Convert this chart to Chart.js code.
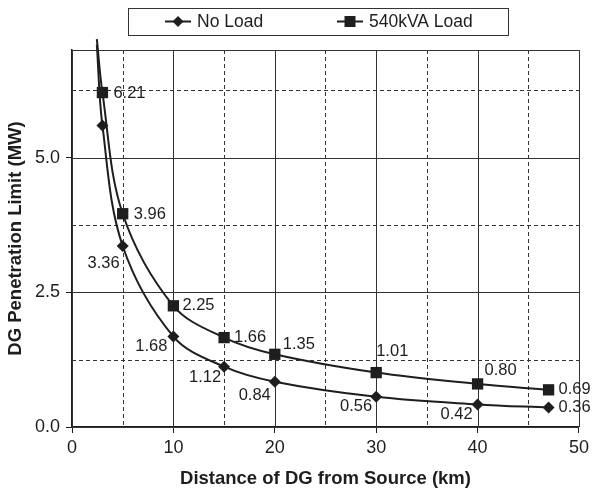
<!DOCTYPE html>
<html>
<head>
<meta charset="utf-8">
<script src="https://cdn.jsdelivr.net/npm/chart.js@4.4.1/dist/chart.umd.min.js"></script>
<style>
  html, body { margin: 0; padding: 0; background: #ffffff; }
  #wrap { width: 593px; height: 495px; position: relative; }
</style>
</head>
<body>
<div id="wrap"><canvas id="c" width="593" height="495"></canvas></div>
<script>
// Distance of the DG unit from the source (km)
const distanceKm = [2.45, 3, 5, 10, 15, 20, 30, 40, 47];
// Penetration limit (MW) with no load connected
const noLoadMW = [7.1, 5.60, 3.36, 1.68, 1.12, 0.84, 0.56, 0.42, 0.36];
// Penetration limit (MW) with a 540 kVA load connected
const load540MW = [7.2, 6.21, 3.96, 2.25, 1.66, 1.35, 1.01, 0.80, 0.69];
// Printed value labels (null = not printed)
const noLoadLabels = [null, null, '3.36', '1.68', '1.12', '0.84', '0.56', '0.42', '0.36'];
const load540Labels = [null, '6.21', '3.96', '2.25', '1.66', '1.35', '1.01', '0.80', '0.69'];
// Axis tick labels
const xTickValues = [0, 10, 20, 30, 40, 50];
const yTickValues = [0, 2.5, 5.0];
// Minor (dashed) grid positions
const xMinorGrid = [5, 15, 25, 35, 45];
const yMinorGrid = [1.25, 3.75, 6.25];

// Label placement relative to each marker: [dx, dy, textAlign]
const noLoadLabelPlace = [null, null, [-3, 17, 'right'], [-6, 10, 'right'], [-3, 11, 'right'],
  [-4, 14, 'right'], [-4, 10, 'right'], [-5, 10, 'right'], [10, 0, 'left']];
const load540LabelPlace = [null, [11, 1, 'left'], [11, 1, 'left'], [9, 0, 'left'], [10, 0, 'left'],
  [8, -10, 'left'], [0, -21, 'left'], [7, -13, 'left'], [10, 0, 'left']];

const INK = '#1e1e1e';
const FONT = '"Liberation Sans", Arial, sans-serif';

const toPoints = (ys) => distanceKm.map((x, i) => ({ x: x, y: ys[i] }));

// Inner grid: solid at labelled ticks, dashed halfway between
const gridPlugin = {
  id: 'grid',
  beforeDatasetsDraw(chart) {
    const { ctx, chartArea: a, scales: { x, y } } = chart;
    ctx.save();
    ctx.strokeStyle = '#333';
    ctx.lineWidth = 1;
    const vline = (v) => { const px = Math.round(x.getPixelForValue(v)) + 0.5; ctx.beginPath(); ctx.moveTo(px, a.top); ctx.lineTo(px, a.bottom); ctx.stroke(); };
    const hline = (v) => { const py = Math.round(y.getPixelForValue(v)) + 0.5; ctx.beginPath(); ctx.moveTo(a.left, py); ctx.lineTo(a.right, py); ctx.stroke(); };
    ctx.setLineDash([]);
    xTickValues.forEach(vline);
    yTickValues.forEach(hline);
    hline(y.max);
    ctx.setLineDash([4, 3]);
    xMinorGrid.forEach(vline);
    yMinorGrid.forEach(hline);
    ctx.restore();
  }
};

// Value labels beside the markers
const valueLabelPlugin = {
  id: 'valueLabels',
  afterDatasetsDraw(chart) {
    const { ctx } = chart;
    const sets = [[noLoadLabels, noLoadLabelPlace], [load540Labels, load540LabelPlace]];
    ctx.save();
    ctx.font = '16.5px ' + FONT;
    ctx.fillStyle = INK;
    ctx.textBaseline = 'middle';
    sets.forEach(([labels, place], di) => {
      const meta = chart.getDatasetMeta(di);
      labels.forEach((t, i) => {
        if (!t) return;
        const p = meta.data[i];
        const [dx, dy, align] = place[i];
        ctx.textAlign = align;
        ctx.fillText(t, p.x + dx, p.y + dy);
      });
    });
    ctx.restore();
  }
};

// Boxed legend above the plot
const boxLegendPlugin = {
  id: 'boxLegend',
  afterDraw(chart) {
    const { ctx } = chart;
    ctx.save();
    ctx.strokeStyle = '#333';
    ctx.lineWidth = 1;
    ctx.strokeRect(128.5, 8.5, 380, 27);
    const cy = 21.5;
    const items = [
      { x: 178, label: chart.data.datasets[0].label, style: 'diamond' },
      { x: 350, label: chart.data.datasets[1].label, style: 'square' }
    ];
    ctx.font = '17.5px ' + FONT;
    ctx.textBaseline = 'middle';
    ctx.textAlign = 'left';
    items.forEach(it => {
      ctx.strokeStyle = INK;
      ctx.lineWidth = 2;
      ctx.beginPath(); ctx.moveTo(it.x - 13, cy); ctx.lineTo(it.x + 13, cy); ctx.stroke();
      ctx.fillStyle = INK;
      ctx.beginPath();
      if (it.style === 'diamond') {
        ctx.moveTo(it.x, cy - 5.5); ctx.lineTo(it.x + 5.5, cy); ctx.lineTo(it.x, cy + 5.5); ctx.lineTo(it.x - 5.5, cy);
        ctx.closePath();
      } else {
        ctx.rect(it.x - 5.5, cy - 5.5, 11, 11);
      }
      ctx.fill();
      ctx.fillText(it.label, it.x + 19, cy + 1);
    });
    ctx.restore();
  }
};

new Chart(document.getElementById('c'), {
  type: 'scatter',
  data: {
    datasets: [
      {
        label: 'No Load',
        data: toPoints(noLoadMW),
        showLine: true,
        borderColor: INK,
        backgroundColor: INK,
        borderWidth: 2,
        tension: 0.35,
        pointStyle: 'rectRot',
        pointRadius: (c) => (c.dataIndex === 0 ? 0 : 6),
        pointBorderWidth: 0,
        clip: false
      },
      {
        label: '540kVA Load',
        data: toPoints(load540MW),
        showLine: true,
        borderColor: INK,
        backgroundColor: INK,
        borderWidth: 2,
        tension: 0.35,
        pointStyle: 'rect',
        pointRadius: (c) => (c.dataIndex === 0 ? 0 : 8),
        pointBorderWidth: 0,
        clip: false
      }
    ]
  },
  options: {
    responsive: false,
    animation: false,
    events: [],
    layout: { padding: { left: 0, right: 14, top: 50, bottom: 0 } },
    plugins: { legend: { display: false }, tooltip: { enabled: false } },
    scales: {
      x: {
        type: 'linear',
        min: 0,
        max: 50,
        afterBuildTicks: (s) => { s.ticks = xTickValues.map(v => ({ value: v })); },
        afterFit: (s) => { s.height = 68; },
        grid: { drawOnChartArea: false, drawTicks: true, tickLength: 6, color: INK },
        border: { display: true, color: INK, width: 1.5 },
        ticks: { color: INK, font: { family: FONT, size: 18 }, padding: 4, maxRotation: 0 },
        title: { display: true, text: 'Distance of DG from Source (km)', color: INK,
                 font: { family: FONT, size: 18.5, weight: 'bold' }, padding: { top: 0, bottom: 5 } }
      },
      y: {
        type: 'linear',
        min: 0,
        max: 7,
        afterBuildTicks: (s) => { s.ticks = yTickValues.map(v => ({ value: v })); },
        afterFit: (s) => { s.width = 72; },
        grid: { drawOnChartArea: false, drawTicks: true, tickLength: 6, color: INK },
        border: { display: true, color: INK, width: 1.5 },
        ticks: { color: INK, font: { family: FONT, size: 18 }, padding: 6,
                 callback: (v) => Number(v).toFixed(1) },
        title: { display: true, text: 'DG Penetration Limit (MW)', color: INK,
                 font: { family: FONT, size: 18.5, weight: 'bold' }, padding: { top: 5, bottom: 0 } }
      }
    }
  },
  plugins: [gridPlugin, valueLabelPlugin, boxLegendPlugin]
});
</script>
</body>
</html>
